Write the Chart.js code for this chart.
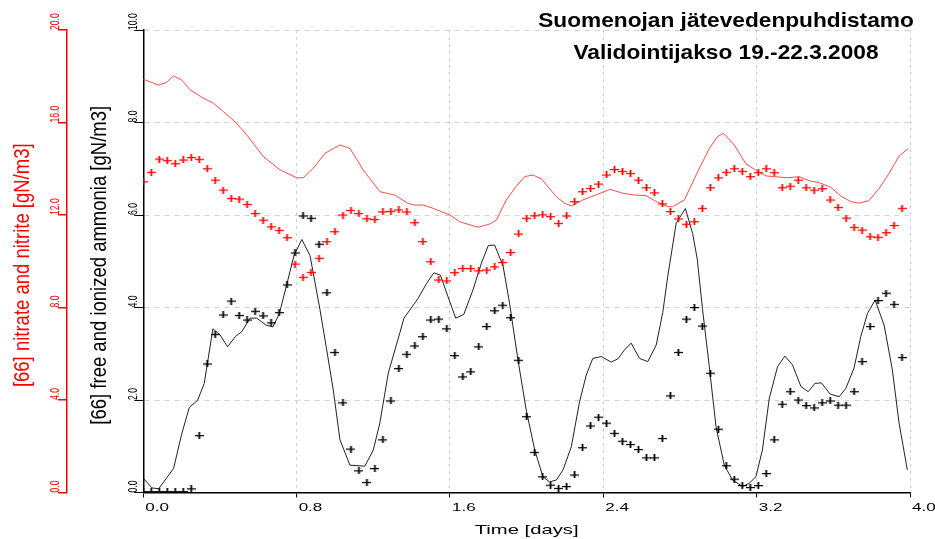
<!DOCTYPE html>
<html>
<head>
<meta charset="utf-8">
<script src="https://cdn.jsdelivr.net/npm/chart.js@4.4.1/dist/chart.umd.min.js"></script>
<style>
  html, body { margin: 0; padding: 0; background: #fff; }
  canvas { display: block; }
</style>
</head>
<body>
<canvas id="chart" width="935" height="539"></canvas>
<script>
// measured values, one per hour (t = hour / 24 days)
const nh4Measured = [0.02, 0.02, 0.02, 0.02, 0.02, 0.02, 0.08, 1.23, 2.78, 3.42,
  3.84, 4.14, 3.83, 3.73, 3.92, 3.82, 3.67, 3.89, 4.49, 5.18,
  5.98, 5.93, 5.37, 4.32, 3.03, 1.94, 0.94, 0.47, 0.22, 0.52,
  1.14, 1.98, 2.68, 2.99, 3.17, 3.37, 3.73, 3.75, 3.54, 2.96,
  2.50, 2.61, 3.15, 3.59, 3.93, 4.05, 3.78, 2.86, 1.64, 0.87,
  0.34, 0.16, 0.09, 0.13, 0.38, 0.97, 1.44, 1.63, 1.50, 1.28,
  1.11, 1.04, 0.93, 0.75, 0.75, 1.17, 2.09, 3.03, 3.75, 4.00,
  3.60, 2.58, 1.37, 0.58, 0.29, 0.15, 0.11, 0.15, 0.41, 1.14,
  1.91, 2.18, 2.00, 1.88, 1.83, 1.94, 1.98, 1.89, 1.89, 2.18,
  2.83, 3.59, 4.15, 4.31, 4.07, 2.92];

const nitMeasured = [13.44, 13.85, 14.42, 14.35, 14.22, 14.38, 14.49, 14.41, 14.00, 13.51,
  13.08, 12.72, 12.69, 12.46, 12.07, 11.78, 11.49, 11.34, 11.02, 9.88,
  9.31, 9.52, 10.13, 10.85, 11.28, 12.00, 12.20, 12.07, 11.84, 11.81,
  12.14, 12.16, 12.22, 12.13, 11.67, 10.85, 9.98, 9.19, 9.15, 9.51,
  9.69, 9.69, 9.59, 9.62, 9.76, 9.95, 10.38, 11.18, 11.86, 11.97,
  12.01, 11.93, 11.64, 11.96, 12.58, 13.01, 13.15, 13.34, 13.73, 13.97,
  13.89, 13.80, 13.51, 13.18, 12.96, 12.48, 12.15, 11.83, 11.60, 11.71,
  12.29, 13.18, 13.61, 13.85, 14.00, 13.89, 13.66, 13.83, 14.00, 13.83,
  13.18, 13.25, 13.51, 13.18, 13.08, 13.14, 12.65, 12.33, 11.87, 11.47,
  11.35, 11.06, 11.04, 11.24, 11.55, 12.29];

// simulated curves
const modelNh4Time = [0, 0.045, 0.08, 0.158, 0.2, 0.24, 0.283, 0.318, 0.363, 0.40,
  0.44, 0.48, 0.514, 0.557, 0.592, 0.64, 0.676, 0.71, 0.748, 0.786,
  0.827, 0.87, 0.922, 0.957, 0.991, 1.026, 1.078, 1.156, 1.2, 1.234,
  1.278, 1.339, 1.36, 1.434, 1.478, 1.516, 1.55, 1.59, 1.63, 1.672,
  1.72, 1.764, 1.80, 1.833, 1.877, 1.911, 1.955, 1.998, 2.042, 2.085,
  2.12, 2.155, 2.19, 2.233, 2.276, 2.311, 2.345, 2.389, 2.441, 2.476,
  2.51, 2.545, 2.589, 2.632, 2.676, 2.71, 2.736, 2.78, 2.828, 2.866,
  2.89, 2.918, 2.953, 2.988, 3.031, 3.074, 3.127, 3.161, 3.196, 3.23,
  3.266, 3.309, 3.347, 3.387, 3.431, 3.469, 3.504, 3.538, 3.583, 3.63,
  3.665, 3.708, 3.743, 3.778, 3.818, 3.865, 3.908, 3.943, 3.986];
const modelNh4 = [0.31, 0.10, 0.08, 0.52, 1.26, 1.84, 1.99, 2.36, 3.54, 3.41,
  3.15, 3.37, 3.48, 3.77, 3.77, 3.62, 3.58, 3.87, 4.49, 5.12,
  5.47, 5.12, 3.95, 3.08, 2.22, 1.14, 0.59, 0.57, 0.92, 1.50,
  2.58, 3.46, 3.77, 4.20, 4.52, 4.75, 4.70, 4.23, 3.77, 3.85,
  4.38, 4.96, 5.34, 5.35, 4.90, 4.09, 2.86, 1.78, 0.92, 0.34,
  0.23, 0.27, 0.49, 0.99, 1.96, 2.54, 2.90, 2.94, 2.82, 2.89,
  3.08, 3.23, 2.90, 2.83, 3.19, 3.89, 4.67, 5.82, 6.14, 5.60,
  5.05, 3.95, 2.72, 1.42, 0.59, 0.27, 0.13, 0.20, 0.34, 0.92,
  2.04, 2.72, 2.95, 2.76, 2.29, 2.18, 2.36, 2.37, 2.13, 2.07,
  2.25, 2.69, 3.37, 3.87, 4.16, 3.62, 2.65, 1.50, 0.49];

const modelNitTime = [0, 0.078, 0.12, 0.158, 0.2, 0.245, 0.306, 0.366, 0.418, 0.479,
  0.54, 0.627, 0.714, 0.80, 0.835, 0.887, 0.948, 1.026, 1.078, 1.147,
  1.234, 1.3125, 1.339, 1.382, 1.417, 1.46, 1.512, 1.599, 1.651, 1.746,
  1.807, 1.842, 1.894, 1.946, 1.99, 2.033, 2.077, 2.155, 2.198, 2.233,
  2.293, 2.371, 2.436, 2.502, 2.5625, 2.623, 2.676, 2.736, 2.762, 2.823,
  2.884, 2.953, 2.996, 3.026, 3.083, 3.144, 3.1875, 3.248, 3.361, 3.422,
  3.474, 3.526, 3.587, 3.639, 3.691, 3.734, 3.786, 3.839, 3.891, 3.943, 3.991];
const modelNit = [17.87, 17.62, 17.72, 18.02, 17.84, 17.41, 17.09, 16.83, 16.47, 16.03,
  15.46, 14.52, 13.95, 13.61, 13.61, 14.02, 14.67, 15.03, 14.88, 13.95,
  13.01, 12.86, 12.72, 12.50, 12.43, 12.43, 12.29, 12.00, 11.71, 11.47,
  11.61, 11.78, 12.65, 13.25, 13.66, 13.73, 13.56, 12.79, 12.51, 12.39,
  12.65, 12.90, 13.11, 12.94, 12.86, 12.84, 12.58, 12.36, 12.36, 12.65,
  13.73, 14.88, 15.39, 15.53, 15.03, 14.21, 13.98, 13.69, 13.61, 13.66,
  13.48, 13.40, 13.20, 12.82, 12.58, 12.51, 12.62, 13.15, 13.80, 14.55, 14.88];

const timeTicks = [0, 0.8, 1.6, 2.4, 3.2, 4.0];
const nh4Ticks = [0, 2, 4, 6, 8, 10];
const nitTicks = [0, 4, 8, 12, 16, 20];

const titleLines = ['Suomenojan jätevedenpuhdistamo', 'Validointijakso 19.-22.3.2008'];
const xTitle = 'Time [days]';
const nh4Title = '[66] free and ionized ammonia [gN/m3]';
const nitTitle = '[66] nitrate and nitrite [gN/m3]';

const RED = '#ff0000';
const FONT = "'Liberation Sans', Arial, sans-serif";

function makeCross(color) {
  const c = document.createElement('canvas');
  c.width = 9; c.height = 7;
  const g = c.getContext('2d');
  g.fillStyle = color;
  g.fillRect(0, 3, 9, 1.2);
  g.fillRect(3.6, 0, 1.8, 7);
  return c;
}

// text drawn with a stretch, the original plot had wide glyphs
function drawText(ctx, text, x, y, font, color, sx, sy, rot, align) {
  ctx.save();
  ctx.translate(x, y);
  if (rot) ctx.rotate(rot);
  ctx.scale(sx, sy);
  ctx.font = font;
  ctx.fillStyle = color;
  ctx.textAlign = align;
  ctx.textBaseline = 'alphabetic';
  ctx.fillText(text, 0, 0);
  ctx.restore();
}

const axisText = {
  id: 'axisText',
  afterDraw(chart) {
    const { ctx, scales, chartArea } = chart;
    const up = -Math.PI / 2;

    drawText(ctx, titleLines[0], 726, 27, 'bold 21px ' + FONT, '#000', 1.08, 1, 0, 'center');
    drawText(ctx, titleLines[1], 726, 58.5, 'bold 21px ' + FONT, '#000', 1.08, 1, 0, 'center');

    timeTicks.forEach(v => {
      const x = scales.x.getPixelForValue(v);
      drawText(ctx, v.toFixed(1), x + 2, 511, '11px ' + FONT, '#000', 1.55, 1, 0, 'left');
    });
    drawText(ctx, xTitle, (chartArea.left + chartArea.right) / 2, 534, '13.5px ' + FONT, '#000', 1.5, 1, 0, 'center');

    nh4Ticks.forEach(v => {
      const y = scales.yNh4.getPixelForValue(v);
      drawText(ctx, v.toFixed(1), scales.yNh4.right - 6.6, y, '8.6px ' + FONT, '#000', 1, 1.5, up, 'left');
    });
    nitTicks.forEach(v => {
      const y = scales.yNit.getPixelForValue(v);
      drawText(ctx, v.toFixed(1), scales.yNit.right - 7.7, y, '8.6px ' + FONT, RED, 1, 1.5, up, 'left');
    });

    const midY = (chartArea.top + chartArea.bottom) / 2 + 4;
    drawText(ctx, nh4Title, scales.yNh4.left + 38.5, midY, '18.5px ' + FONT, '#000', 1, 1.15, up, 'center');
    drawText(ctx, nitTitle, scales.yNit.left + 28.5, midY, '18.5px ' + FONT, RED, 1, 1.15, up, 'center');
  }
};

const hourTime = i => i / 24;

new Chart(document.getElementById('chart'), {
  type: 'line',
  data: {
    datasets: [
      {
        label: 'NH4 measured',
        data: nh4Measured.map((v, i) => ({ x: hourTime(i), y: v })),
        yAxisID: 'yNh4',
        showLine: false,
        pointStyle: makeCross('#000'),
        pointRadius: 4
      },
      {
        label: 'NO3 measured',
        data: nitMeasured.map((v, i) => ({ x: hourTime(i), y: v })),
        yAxisID: 'yNit',
        showLine: false,
        pointStyle: makeCross(RED),
        pointRadius: 4
      },
      {
        label: 'NH4 model',
        data: modelNh4Time.map((t, k) => ({ x: t, y: modelNh4[k] })),
        yAxisID: 'yNh4',
        borderColor: '#222',
        borderWidth: 1,
        pointRadius: 0,
        tension: 0
      },
      {
        label: 'NO3 model',
        data: modelNitTime.map((t, k) => ({ x: t, y: modelNit[k] })),
        yAxisID: 'yNit',
        borderColor: '#ff4a4a',
        borderWidth: 1,
        pointRadius: 0,
        tension: 0
      }
    ]
  },
  options: {
    responsive: false,
    animation: false,
    devicePixelRatio: 1,
    layout: { padding: { top: 30, right: 25, left: 0, bottom: 0 } },
    plugins: { legend: { display: false }, tooltip: { enabled: false } },
    scales: {
      x: {
        type: 'linear',
        min: 0, max: 4,
        afterBuildTicks: s => { s.ticks = timeTicks.map(v => ({ value: v })); },
        afterFit: s => { s.height = 46.5; },
        ticks: { display: false },
        grid: { color: '#cfcfcf', tickColor: '#000', tickLength: 5, lineWidth: 1 },
        border: { color: '#000', width: 1.5, dash: [3, 4] }
      },
      yNh4: {
        type: 'linear',
        position: 'left',
        weight: 1,
        min: 0, max: 10,
        afterBuildTicks: s => { s.ticks = nh4Ticks.map(v => ({ value: v })); },
        afterFit: s => { s.width = 76.3; },
        ticks: { display: false },
        grid: { color: '#d2d2d2', tickColor: '#000', tickLength: 9, lineWidth: 1 },
        border: { color: '#000', width: 1.5, dash: [5, 5] }
      },
      yNit: {
        type: 'linear',
        position: 'left',
        weight: 2,
        min: 0, max: 20,
        afterBuildTicks: s => { s.ticks = nitTicks.map(v => ({ value: v })); },
        afterFit: s => { s.width = 67; },
        ticks: { display: false },
        grid: { drawOnChartArea: false, tickColor: RED, tickLength: 9, lineWidth: 1.5 },
        border: { color: RED, width: 1.5 }
      }
    }
  },
  plugins: [axisText]
});
</script>
</body>
</html>
